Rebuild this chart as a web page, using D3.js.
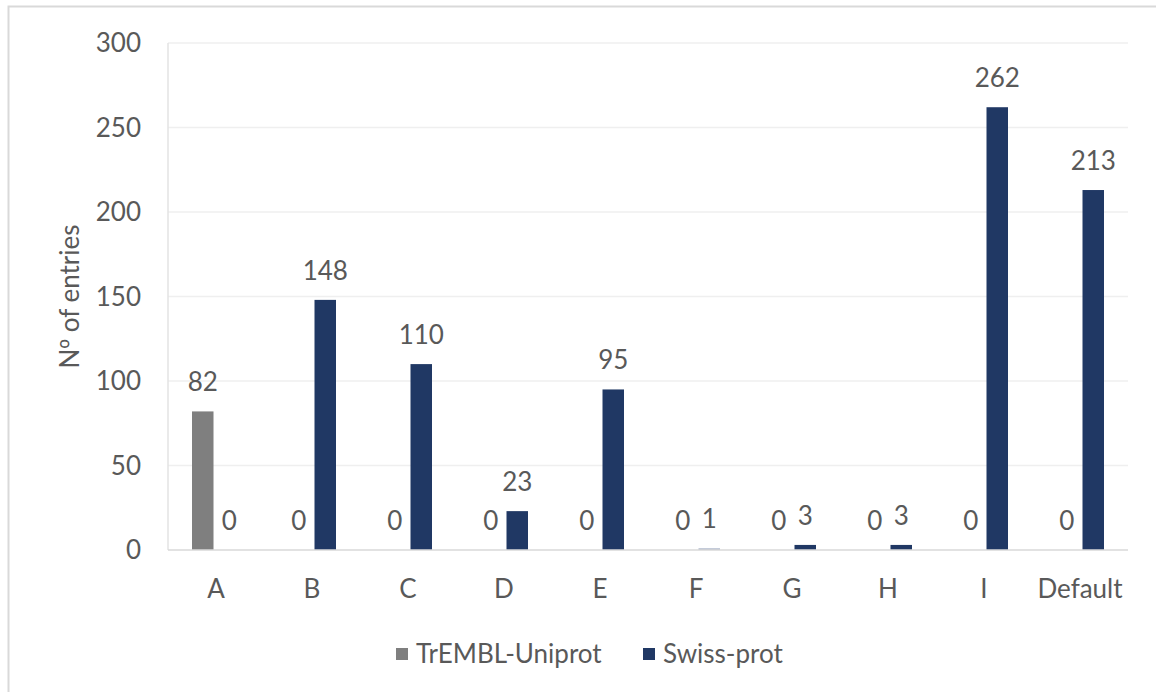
<!DOCTYPE html>
<html>
<head>
<meta charset="utf-8">
<script src="https://cdn.jsdelivr.net/npm/d3@7"></script>
<style>
  html, body { margin: 0; padding: 0; background: #fff; }
  svg { display: block; }
  text { font-family: Lato, "Open Sans", sans-serif; fill: #595959; }
</style>
</head>
<body>
<svg id="chart" width="1156" height="692"></svg>
<script>
// Entries per category, split by source database
const categories = ["A", "B", "C", "D", "E", "F", "G", "H", "I", "Default"];
const tremblValues = [82, 0, 0, 0, 0, 0, 0, 0, 0, 0];
const swissValues = [0, 148, 110, 23, 95, 1, 3, 3, 262, 213];
const seriesNames = ["TrEMBL-Uniprot", "Swiss-prot"];
const seriesColors = ["#7f7f7f", "#203864"];
const yTicks = [0, 50, 100, 150, 200, 250, 300];

const svg = d3.select("#chart");
const W = 1156, H = 692;
const plot = { left: 168, right: 1128, top: 43, bottom: 550 };
const fs = 26;

// Chart frame
svg.append("rect")
  .attr("x", 8.5).attr("y", 6.5)
  .attr("width", W + 10).attr("height", H + 10)
  .attr("fill", "none").attr("stroke", "#d9d9d9").attr("stroke-width", 2);

const x = d3.scaleBand().domain(categories).range([plot.left, plot.right]).padding(0);
const y = d3.scaleLinear().domain([0, 300]).range([plot.bottom, plot.top]);

// Horizontal gridlines
svg.append("g")
  .selectAll("line")
  .data(yTicks.filter(t => t > 0))
  .join("line")
  .attr("x1", plot.left).attr("x2", plot.right)
  .attr("y1", d => y(d)).attr("y2", d => y(d))
  .attr("stroke", "#efefef").attr("stroke-width", 1.5);

// Left axis line
svg.append("line")
  .attr("x1", plot.left).attr("x2", plot.left)
  .attr("y1", plot.top).attr("y2", plot.bottom)
  .attr("stroke", "#e3e3e3").attr("stroke-width", 1.5);

// Y tick labels
svg.append("g")
  .selectAll("text")
  .data(yTicks)
  .join("text")
  .attr("x", 141).attr("y", d => y(d))
  .attr("dy", "0.36em")
  .attr("text-anchor", "end")
  .attr("font-size", fs)
  .text(d => d);

// Y axis title (ordinal indicator drawn from a font with the underlined glyph)
const title = svg.append("text")
  .attr("transform", `translate(79, ${(plot.top + plot.bottom) / 2}) rotate(-90)`)
  .attr("text-anchor", "middle")
  .attr("font-size", fs);
title.append("tspan").text("N");
title.append("tspan").style("font-family", "'Noto Sans', 'DejaVu Sans', sans-serif").text("º");
title.append("tspan").text(" of entries");

// Bars: paired within each band
const barW = 21.5, gap = 5;
const series = [tremblValues, swissValues];
series.forEach((vals, si) => {
  const offset = si === 0 ? -gap / 2 - barW : gap / 2;
  const g = svg.append("g");
  g.selectAll("rect")
    .data(categories.map((c, i) => ({ c, v: vals[i] })))
    .join("rect")
    .attr("x", d => x(d.c) + x.bandwidth() / 2 + offset)
    .attr("y", d => y(d.v))
    .attr("width", barW)
    .attr("height", d => Math.max(0, y(0) - y(d.v)))
    .attr("fill", (d) => (si === 1 && d.v === 1) ? "#aab4c8" : seriesColors[si]);
  // value labels
  g.selectAll("text")
    .data(categories.map((c, i) => ({ c, v: vals[i] })))
    .join("text")
    .attr("x", d => x(d.c) + x.bandwidth() / 2 + offset + barW / 2)
    .attr("y", d => y(d.v) - 20)
    .attr("text-anchor", "middle")
    .attr("font-size", fs)
    .text(d => d.v);
});

// Baseline
svg.append("line")
  .attr("x1", plot.left).attr("x2", plot.right)
  .attr("y1", plot.bottom).attr("y2", plot.bottom)
  .attr("stroke", "#d9d9d9").attr("stroke-width", 1.5);

// Category labels
svg.append("g")
  .selectAll("text")
  .data(categories)
  .join("text")
  .attr("x", d => x(d) + x.bandwidth() / 2)
  .attr("y", 598)
  .attr("text-anchor", "middle")
  .attr("font-size", fs)
  .text(d => d);

// Legend
const legend = svg.append("g");
const legendX = [396, 643];
seriesNames.forEach((name, i) => {
  legend.append("rect")
    .attr("x", legendX[i]).attr("y", 648)
    .attr("width", 12).attr("height", 12)
    .attr("fill", seriesColors[i]);
  legend.append("text")
    .attr("x", legendX[i] + 20).attr("y", 663)
    .attr("font-size", fs)
    .text(name);
});
</script>
</body>
</html>
